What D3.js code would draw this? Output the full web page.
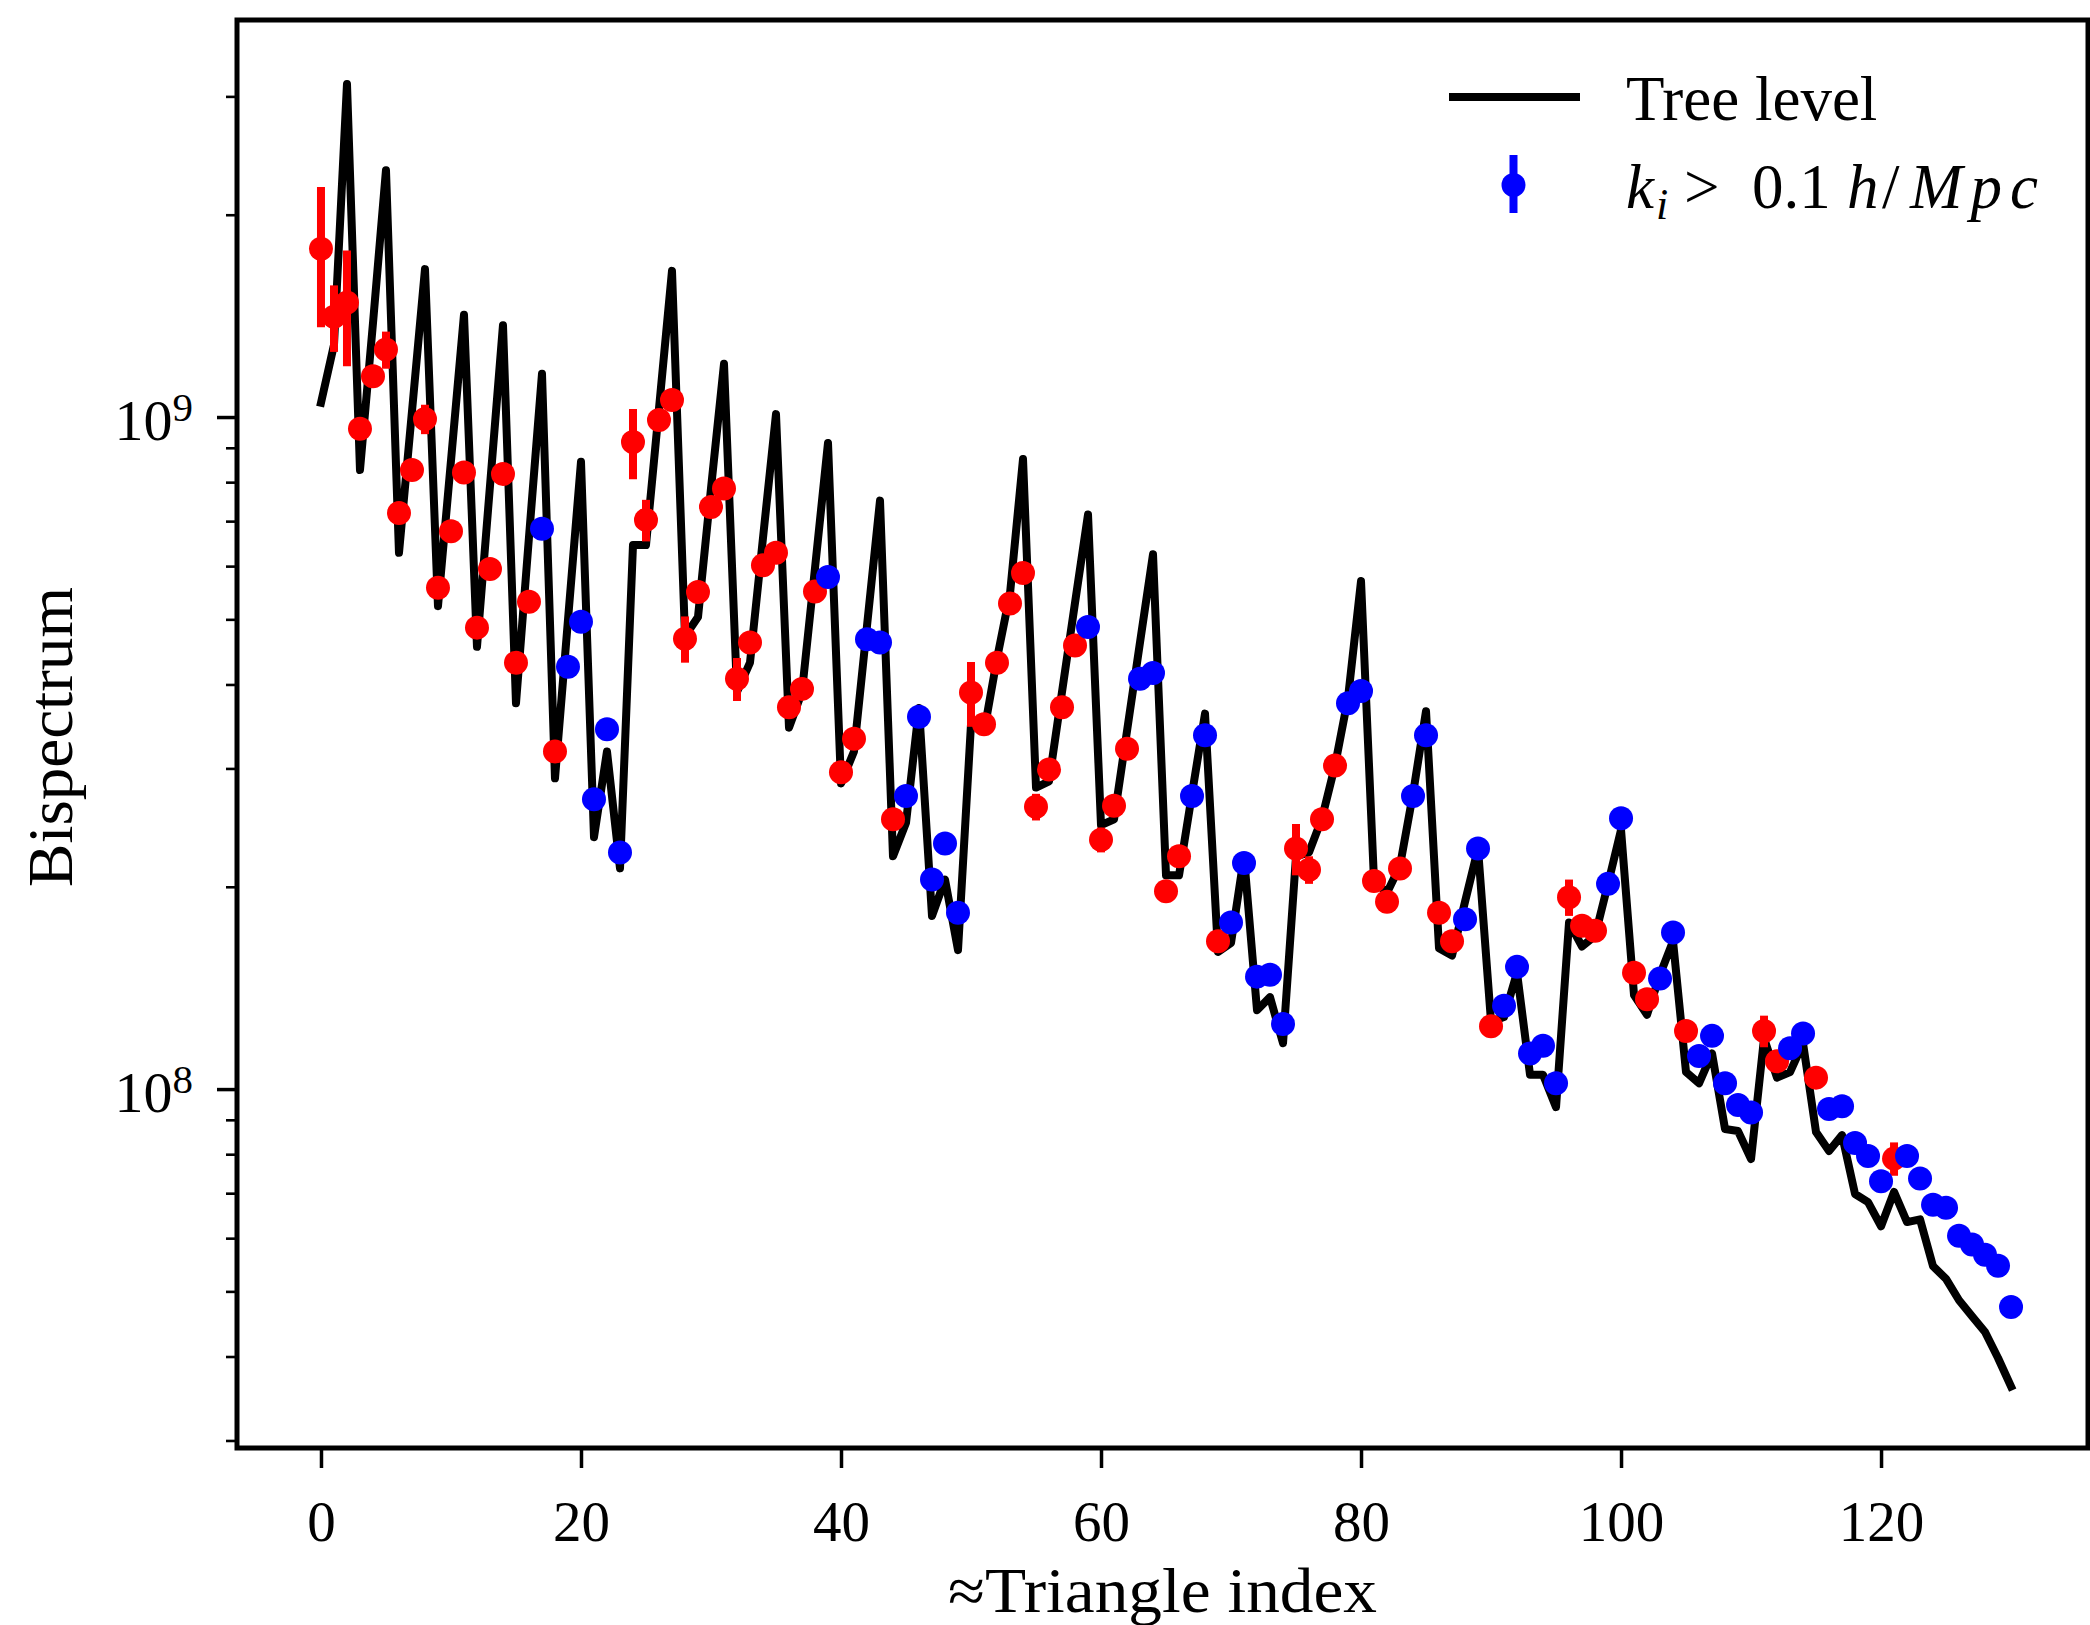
<!DOCTYPE html>
<html>
<head>
<meta charset="utf-8">
<script src="https://cdn.jsdelivr.net/npm/d3@7"></script>
<style>
  html, body { margin: 0; padding: 0; background: #ffffff; }
  svg { display: block; }
  text { font-family: "Liberation Serif", "Times New Roman", serif; fill: #000; }
</style>
</head>
<body>
<svg id="chart" width="2090" height="1625"></svg>
<script>
// Tree-level bispectrum prediction, one value per triangle configuration (index 0..130)
const treeLevel = [
  1.05e9, 1.28e9, 3.13e9, 8.34e8, 1.38e9, 2.33e9, 6.28e8, 1.02e9, 1.66e9, 5.23e8,
  8.61e8, 1.42e9, 4.55e8, 7.90e8, 1.37e9, 3.75e8, 6.63e8, 1.16e9, 2.90e8, 4.99e8,
  8.58e8, 2.37e8, 3.18e8, 2.13e8, 6.45e8, 6.45e8, 1.03e9, 1.65e9, 4.72e8, 5.04e8,
  7.83e8, 1.20e9, 3.90e8, 4.31e8, 6.61e8, 1.01e9, 3.45e8, 3.90e8, 5.96e8, 9.15e8,
  2.85e8, 3.18e8, 4.89e8, 7.51e8, 2.22e8, 2.49e8, 3.69e8, 1.81e8, 2.05e8, 1.61e8,
  3.49e8, 3.40e8, 4.37e8, 5.46e8, 8.66e8, 2.81e8, 2.87e8, 3.90e8, 5.29e8, 7.16e8,
  2.47e8, 2.52e8, 3.41e8, 4.62e8, 6.25e8, 2.08e8, 2.08e8, 2.75e8, 3.62e8, 1.60e8,
  1.65e8, 2.22e8, 1.31e8, 1.37e8, 1.17e8, 2.22e8, 2.25e8, 2.53e8, 3.03e8, 3.82e8,
  5.70e8, 2.04e8, 1.96e8, 2.15e8, 2.75e8, 3.65e8, 1.62e8, 1.58e8, 1.90e8, 2.28e8,
  1.26e8, 1.28e8, 1.49e8, 1.05e8, 1.05e8, 9.40e7, 1.77e8, 1.63e8, 1.69e8, 2.02e8,
  2.43e8, 1.38e8, 1.29e8, 1.48e8, 1.66e8, 1.06e8, 1.02e8, 1.13e8, 8.72e7, 8.66e7,
  7.87e7, 1.19e8, 1.04e8, 1.06e8, 1.17e8, 8.63e7, 8.09e7, 8.54e7, 6.98e7, 6.79e7,
  6.25e7, 7.03e7, 6.34e7, 6.40e7, 5.45e7, 5.22e7, 4.85e7, 4.59e7, 4.35e7, 3.98e7,
  3.61e7
];

// Measured bispectrum for the same triangles
const measured = [
  1.78e9, 1.41e9, 1.48e9, 9.61e8, 1.15e9, 1.26e9, 7.20e8, 8.34e8, 9.93e8, 5.57e8,
  6.76e8, 8.27e8, 4.86e8, 5.94e8, 8.23e8, 4.31e8, 5.31e8, 6.82e8, 3.18e8, 4.25e8,
  4.96e8, 2.70e8, 3.43e8, 2.25e8, 9.18e8, 7.03e8, 9.90e8, 1.06e9, 4.68e8, 5.49e8,
  7.35e8, 7.83e8, 4.08e8, 4.62e8, 6.02e8, 6.28e8, 3.70e8, 3.94e8, 5.50e8, 5.78e8,
  2.96e8, 3.32e8, 4.67e8, 4.62e8, 2.52e8, 2.73e8, 3.58e8, 2.05e8, 2.32e8, 1.83e8,
  3.89e8, 3.49e8, 4.31e8, 5.28e8, 5.86e8, 2.63e8, 2.99e8, 3.70e8, 4.57e8, 4.87e8,
  2.35e8, 2.64e8, 3.21e8, 4.08e8, 4.16e8, 1.97e8, 2.22e8, 2.73e8, 3.36e8, 1.66e8,
  1.77e8, 2.17e8, 1.47e8, 1.48e8, 1.25e8, 2.28e8, 2.12e8, 2.52e8, 3.03e8, 3.75e8,
  3.91e8, 2.04e8, 1.90e8, 2.13e8, 2.73e8, 3.36e8, 1.83e8, 1.66e8, 1.79e8, 2.28e8,
  1.24e8, 1.33e8, 1.52e8, 1.13e8, 1.16e8, 1.02e8, 1.93e8, 1.75e8, 1.72e8, 2.02e8,
  2.53e8, 1.49e8, 1.36e8, 1.46e8, 1.71e8, 1.22e8, 1.12e8, 1.20e8, 1.02e8, 9.47e7,
  9.23e7, 1.22e8, 1.10e8, 1.15e8, 1.21e8, 1.04e8, 9.34e7, 9.43e7, 8.31e7, 7.95e7,
  7.29e7, 7.88e7, 7.95e7, 7.36e7, 6.73e7, 6.66e7, 6.05e7, 5.87e7, 5.67e7, 5.46e7,
  4.74e7
];

// One-sigma uncertainty on each measurement
const measuredErr = [
  4.2e8, 1.6e8, 2.9e8, 3.0e7, 4.0e7, 8.0e7, 2.0e7, 2.5e7, 5.0e7, 1.5e7,
  2.0e7, 2.5e7, 1.3e7, 1.7e7, 2.4e7, 1.2e7, 1.5e7, 1.2e7, 9.0e6, 8.0e6,
  9.0e6, 5.0e6, 6.0e6, 4.0e6, 1.1e8, 5.0e7, 2.5e7, 3.0e7, 3.7e7, 1.5e7,
  2.0e7, 2.2e7, 3.0e7, 1.2e7, 1.6e7, 1.7e7, 1.0e7, 1.1e7, 1.5e7, 1.0e7,
  8.0e6, 9.0e6, 8.0e6, 8.0e6, 7.0e6, 5.0e6, 6.0e6, 4.0e6, 4.0e6, 3.0e6,
  4.3e7, 1.0e7, 1.2e7, 1.4e7, 1.5e7, 1.2e7, 8.0e6, 1.0e7, 1.2e7, 8.0e6,
  1.0e7, 7.0e6, 9.0e6, 7.0e6, 7.0e6, 6.0e6, 6.0e6, 5.0e6, 6.0e6, 5.0e6,
  3.0e6, 4.0e6, 2.5e6, 2.5e6, 2.0e6, 2.0e7, 1.0e7, 7.0e6, 8.0e6, 6.0e6,
  6.0e6, 6.0e6, 5.0e6, 6.0e6, 4.0e6, 5.0e6, 5.0e6, 5.0e6, 3.0e6, 4.0e6,
  4.0e6, 2.0e6, 2.5e6, 2.0e6, 2.0e6, 1.7e6, 1.2e7, 5.0e6, 5.0e6, 3.0e6,
  4.0e6, 4.0e6, 4.0e6, 2.5e6, 3.0e6, 3.5e6, 2.0e6, 2.0e6, 1.7e6, 1.6e6,
  1.5e6, 6.6e6, 3.0e6, 2.0e6, 2.0e6, 3.0e6, 1.5e6, 1.5e6, 1.4e6, 1.3e6,
  1.2e6, 4.5e6, 1.3e6, 1.2e6, 1.1e6, 1.1e6, 1.0e6, 1.0e6, 0.9e6, 0.9e6,
  0.8e6
];

// 1 where every side of the triangle has k_i > 0.1 h/Mpc, 0 otherwise
const aboveCut = [
  0,0,0,0,0,0,0,0,0,0,
  0,0,0,0,0,0,0,1,0,1,
  1,1,1,1,0,0,0,0,0,0,
  0,0,0,0,0,0,0,0,0,1,
  0,0,1,1,0,1,1,1,1,1,
  0,0,0,0,0,0,0,0,0,1,
  0,0,0,1,1,0,0,1,1,0,
  1,1,1,1,1,0,0,0,0,1,
  1,0,0,0,1,1,0,0,1,1,
  0,1,1,1,1,1,0,0,0,1,
  1,0,0,1,1,0,1,1,1,1,
  1,0,0,1,1,0,1,1,1,1,
  1,0,1,1,1,1,1,1,1,1,
  1
];

const xTicks = [0, 20, 40, 60, 80, 100, 120];
const yMajorTicks = [1e8, 1e9];
const yMinorTicks = [3e7, 4e7, 5e7, 6e7, 7e7, 8e7, 9e7,
                     2e8, 3e8, 4e8, 5e8, 6e8, 7e8, 8e8, 9e8,
                     2e9, 3e9];
const legendLabels = { tree: "Tree level" };

// ---- layout ----
const plot = { left: 237, right: 2088, top: 20, bottom: 1448 };
const BLACK = "#000000", RED = "#ff0000", BLUE = "#0000ff";
const LW = 8, MR = 12;

const svg = d3.select("#chart");
svg.append("rect").attr("width", 2090).attr("height", 1625).attr("fill", "#fff");

const x = d3.scaleLinear().domain([-6.46, 135.92]).range([plot.left, plot.right]);
const y = d3.scaleLog().domain([2.9236e7, 3.8975e9]).range([plot.bottom, plot.top]);

const triangleIndex = d3.range(treeLevel.length);

svg.append("defs").append("clipPath").attr("id", "plotclip")
  .append("rect")
  .attr("x", plot.left).attr("y", plot.top)
  .attr("width", plot.right - plot.left).attr("height", plot.bottom - plot.top);

const dataLayer = svg.append("g").attr("clip-path", "url(#plotclip)");

// tree-level curve
const line = d3.line().x((d, i) => x(i)).y(d => y(d));
dataLayer.append("path")
  .datum(treeLevel)
  .attr("d", line)
  .attr("fill", "none")
  .attr("stroke", BLACK)
  .attr("stroke-width", LW)
  .attr("stroke-linejoin", "round")
  .attr("stroke-linecap", "square");

// measurements: low-k triangles in red, high-k triangles drawn afterwards in blue
const points = triangleIndex.map(i => ({
  i, v: measured[i], e: measuredErr[i], high: aboveCut[i] === 1
}));

function drawGroup(sel, color) {
  const g = dataLayer.append("g");
  g.selectAll("line.err").data(sel).enter().append("line")
    .attr("class", "err")
    .attr("x1", d => x(d.i)).attr("x2", d => x(d.i))
    .attr("y1", d => y(d.v - d.e)).attr("y2", d => y(d.v + d.e))
    .attr("stroke", color).attr("stroke-width", LW);
  g.selectAll("circle").data(sel).enter().append("circle")
    .attr("cx", d => x(d.i)).attr("cy", d => y(d.v))
    .attr("r", MR).attr("fill", color);
}
drawGroup(points.filter(d => !d.high), RED);
drawGroup(points.filter(d => d.high), BLUE);

// ---- axes ----
const fontStack = '"Liberation Serif", "Times New Roman", serif';

const gx = svg.append("g")
  .attr("transform", `translate(0,${plot.bottom})`)
  .call(d3.axisBottom(x).tickValues(xTicks).tickSize(20).tickPadding(33).tickFormat(d3.format("d")));
gx.attr("font-family", fontStack).attr("font-size", 57);
gx.select(".domain").remove();
gx.selectAll(".tick line").attr("stroke", BLACK).attr("stroke-width", 3.5);
gx.selectAll(".tick text").attr("fill", BLACK);

const gyMinor = svg.append("g")
  .attr("transform", `translate(${plot.left},0)`)
  .call(d3.axisLeft(y).tickValues(yMinorTicks).tickSize(11).tickFormat(""));
gyMinor.select(".domain").remove();
gyMinor.selectAll(".tick line").attr("stroke", BLACK).attr("stroke-width", 2.6);

const gyMajor = svg.append("g")
  .attr("transform", `translate(${plot.left},0)`)
  .call(d3.axisLeft(y).tickValues(yMajorTicks).tickSize(20).tickFormat(""));
gyMajor.select(".domain").remove();
gyMajor.selectAll(".tick line").attr("stroke", BLACK).attr("stroke-width", 3.5);

// power-of-ten labels: "10" with a raised exponent
const yLab = svg.append("g");
yMajorTicks.forEach(v => {
  const t = yLab.append("text")
    .attr("x", plot.left - 44)
    .attr("y", y(v) + 23)
    .attr("text-anchor", "end")
    .attr("font-size", 58);
  t.append("tspan").text("10");
  t.append("tspan").attr("font-size", 41).attr("dy", -19).text(String(Math.round(Math.log10(v))));
});

// frame
svg.append("rect")
  .attr("x", plot.left).attr("y", plot.top)
  .attr("width", plot.right - plot.left).attr("height", plot.bottom - plot.top)
  .attr("fill", "none").attr("stroke", BLACK).attr("stroke-width", 5);

// axis titles
svg.append("text")
  .attr("x", (plot.left + plot.right) / 2).attr("y", 1612)
  .attr("text-anchor", "middle").attr("font-size", 63)
  .attr("textLength", 429).attr("lengthAdjust", "spacingAndGlyphs")
  .text("\u2248Triangle index");

svg.append("text")
  .attr("transform", `translate(72,${(plot.top + plot.bottom) / 2 + 3}) rotate(-90)`)
  .attr("text-anchor", "middle").attr("font-size", 63)
  .attr("textLength", 300).attr("lengthAdjust", "spacingAndGlyphs")
  .text("Bispectrum");

// ---- legend ----
const lg = svg.append("g");
lg.append("line")
  .attr("x1", 1449).attr("x2", 1580).attr("y1", 97).attr("y2", 97)
  .attr("stroke", BLACK).attr("stroke-width", LW).attr("stroke-linecap", "butt");
lg.append("text").attr("x", 1626).attr("y", 120).attr("font-size", 63).text(legendLabels.tree);

lg.append("line")
  .attr("x1", 1513.5).attr("x2", 1513.5).attr("y1", 155).attr("y2", 213)
  .attr("stroke", BLUE).attr("stroke-width", LW);
lg.append("circle").attr("cx", 1513.5).attr("cy", 185).attr("r", MR).attr("fill", BLUE);

const mt = lg.append("text").attr("y", 208).attr("font-size", 63);
mt.append("tspan").attr("x", 1626).attr("font-style", "italic").text("k");
mt.append("tspan").attr("x", 1656).attr("y", 219).attr("font-size", 44).attr("font-style", "italic").text("i");
mt.append("tspan").attr("x", 1684).attr("y", 208).text(">");
mt.append("tspan").attr("x", 1752).text("0.1");
mt.append("tspan").attr("x", 1847).attr("font-style", "italic").text("h");
mt.append("tspan").attr("x", 1882).text("/");
lg.append("text").attr("x", 1910).attr("y", 208).attr("font-size", 63)
  .attr("font-style", "italic")
  .attr("textLength", 128).attr("lengthAdjust", "spacing")
  .text("Mpc");
</script>
</body>
</html>
